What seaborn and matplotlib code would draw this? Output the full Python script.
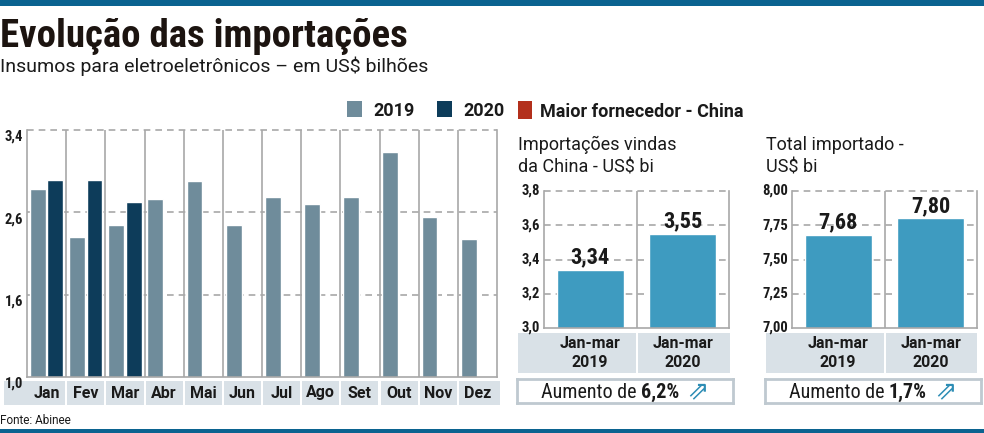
import matplotlib
matplotlib.use("Agg")
import matplotlib.pyplot as plt
from matplotlib.patches import Rectangle
from matplotlib.offsetbox import TextArea, HPacker, AnchoredOffsetbox
import pandas as pd
import seaborn as sns

W, H = 984, 433

# importações mensais de insumos (US$ bilhões)
months = ["Jan", "Fev", "Mar", "Abr", "Mai", "Jun", "Jul", "Ago", "Set", "Out", "Nov", "Dez"]
years = ["2019", "2020"]
values_2019 = [2.83, 2.36, 2.48, 2.73, 2.90, 2.48, 2.75, 2.68, 2.75, 3.19, 2.55, 2.34]
values_2020 = [2.91, 2.91, 2.70]
month_ticks = [1.0, 1.8, 2.6, 3.4]
month_tick_labels = ["1,0", "1,6", "2,6", "3,4"]

# primeiro trimestre
periods = ["Jan-mar\n2019", "Jan-mar\n2020"]
china_values = [3.34, 3.55]
china_ticks = [3.0, 3.2, 3.4, 3.6, 3.8]
total_values = [7.68, 7.80]
total_ticks = [7.00, 7.25, 7.50, 7.75, 8.00]
china_growth = "6,2%"
total_growth = "1,7%"

C2019 = "#6f8c9b"
C2020 = "#0d3c5a"
CCHINA = "#3e9bc0"
CRED = "#b3301c"
CBAND = "#d9e1e7"
CGRID = "#a8a8a8"
CTOP = "#0b6390"
CTEXT = "#1a1a1a"

sns.set_style("white")
COND = ["Roboto Condensed", "Liberation Sans Narrow", "Roboto", "DejaVu Sans"]
FONT = ["Roboto", "DejaVu Sans"]
plt.rcParams["font.family"] = FONT


def px_box(x0, y0, x1, y1):
    return [x0 / W, 1 - y1 / H, (x1 - x0) / W, (y1 - y0) / H]


def fx(x):
    return x / W


def fy(y):
    return 1 - y / H


def style_axes(ax, ticks, labels, va):
    ax.set_yticks(ticks)
    ax.set_yticklabels(labels, fontsize=10.5, fontweight="bold", color=CTEXT, family=COND)
    for lbl in ax.get_yticklabels():
        lbl.set_va(va)
    ax.tick_params(axis="y", length=0, pad=3)
    ax.tick_params(axis="x", length=0, labelbottom=False)
    ax.set_xlabel("")
    ax.set_ylabel("")
    for t in ticks[1:]:
        ax.axhline(t, color=CGRID, lw=1.2, ls=(0, (4, 3)), zorder=0, clip_on=False)
    for side in ["left", "right", "bottom"]:
        ax.spines[side].set_color(CGRID)
        ax.spines[side].set_linewidth(1.2)
    ax.spines["top"].set_visible(False)
    ax.set_zorder(3)


def draw_band(box, axes_x0, axes_x1, n, labels, fontsize):
    # faixa cinza com os rótulos das categorias, alinhada ao eixo de cima
    bx = fig.add_axes(px_box(*box))
    bx.set_zorder(1)
    unit = (axes_x1 - axes_x0) / n
    left = -0.5 - (axes_x0 - box[0]) / unit
    right = n - 0.5 + (box[2] - axes_x1) / unit
    bx.set_xlim(left, right)
    bx.set_ylim(0, 1)
    bx.axis("off")
    g = 1 / unit
    for i, lab in enumerate(labels):
        x0 = left if i == 0 else i - 0.5 + g
        x1 = right if i == n - 1 else i + 0.5 - g
        bx.add_patch(Rectangle((x0, 0), x1 - x0, 1, color=CBAND, lw=0))
        bx.text(i, 0.5, lab, ha="center", va="center", fontsize=fontsize,
                fontweight="bold", color=CTEXT, linespacing=1.3)


def growth_box(box, growth):
    gx = fig.add_axes(px_box(*box))
    gx.set_xticks([])
    gx.set_yticks([])
    for s in gx.spines.values():
        s.set_color("#bfc9d0")
        s.set_linewidth(2)
    parts = [
        TextArea("Aumento de ", textprops=dict(fontsize=14.5, color=CTEXT, family=COND)),
        TextArea(growth, textprops=dict(fontsize=14.5, color=CTEXT, fontweight="bold", family=COND)),
        TextArea(" \u21d7", textprops=dict(fontsize=19, color="#2d8db5", family=["DejaVu Sans"])),
    ]
    pack = HPacker(children=parts, align="baseline", pad=0, sep=0)
    gx.add_artist(AnchoredOffsetbox(loc="center", child=pack, frameon=False, pad=0, borderpad=0))


def period_chart(box, band, gbox, values, ticks, decimals, growth):
    ax = fig.add_axes(px_box(*box))
    d = pd.DataFrame({"periodo": periods, "valor": values})
    sns.barplot(data=d, x="periodo", y="valor", color=CCHINA, saturation=1,
                width=0.72, ax=ax)
    ax.set_xlim(-0.5, 1.5)
    ax.set_ylim(ticks[0], ticks[-1])
    style_axes(ax, ticks, [f"{t:.{decimals}f}".replace(".", ",") for t in ticks], "center")
    ax.axvline(0.5, color=CGRID, lw=1.2, zorder=0.5)
    ax.bar_label(ax.containers[0], labels=[f"{v:.2f}".replace(".", ",") for v in values],
                 padding=1, fontsize=16, fontweight="bold", color=CTEXT, family=COND)
    draw_band(band, box[0], box[2], len(periods), periods, 11.5)
    growth_box(gbox, growth)


fig = plt.figure(figsize=(W / 100, H / 100), dpi=100)

# faixas azuis do topo e da base
fig.patches.append(Rectangle((0, fy(6)), 1, 6 / H, transform=fig.transFigure, color=CTOP, lw=0))
fig.patches.append(Rectangle((0, 0), 1, 4 / H, transform=fig.transFigure, color=CTOP, lw=0))

fig.text(0, fy(47), "Evolução das importações", fontsize=28, fontweight="black",
         color="#1c1410", va="baseline", family=COND)
fig.text(0, fy(72), "Insumos para eletroeletrônicos – em US$ bilhões", fontsize=14,
         color=CTEXT, va="baseline")

# gráfico mensal
df = pd.DataFrame({
    "mes": months + months[:len(values_2020)],
    "ano": [years[0]] * len(values_2019) + [years[1]] * len(values_2020),
    "valor": values_2019 + values_2020,
})
ax = fig.add_axes(px_box(27, 130, 497, 377))
sns.barplot(data=df, x="mes", y="valor", hue="ano", order=months, hue_order=years,
            palette=[C2019, C2020], saturation=1, width=0.9, gap=0.1, legend=False, ax=ax)
ax.set_xlim(-0.5, len(months) - 0.5)
ax.set_ylim(month_ticks[0], month_ticks[-1])
style_axes(ax, month_ticks, month_tick_labels, "top")
for i in range(len(months) - 1):
    ax.axvline(i + 0.5, color=CGRID, lw=1.2, zorder=0.5)
draw_band((4, 381, 500, 405), 27, 497, len(months), months, 11.5)

# legenda
for x, c, lab in [(347, C2019, years[0]), (437, C2020, years[1])]:
    fig.patches.append(Rectangle((fx(x), fy(117)), 15 / W, 16 / H,
                                 transform=fig.transFigure, color=c, lw=0))
    fig.text(fx(x + 26), fy(116), lab, fontsize=13, fontweight="bold", color=CTEXT, va="baseline")

fig.patches.append(Rectangle((fx(518), fy(119)), 14 / W, 18 / H,
                             transform=fig.transFigure, color=CRED, lw=0))
fig.text(fx(540), fy(117), "Maior fornecedor - China", fontsize=13, fontweight="bold",
         color=CTEXT, va="baseline")

fig.text(fx(518), fy(136), "Importações vindas\nda China - US$ bi", fontsize=13,
         color=CTEXT, va="top", linespacing=1.3)
fig.text(fx(766), fy(136), "Total importado -\nUS$ bi", fontsize=13,
         color=CTEXT, va="top", linespacing=1.3)

period_chart((544, 191, 729, 328), (518, 333, 730, 373), (517, 379, 733, 403),
             china_values, china_ticks, 1, china_growth)
period_chart((792, 191, 977, 328), (766, 333, 977, 373), (765, 379, 981, 403),
             total_values, total_ticks, 2, total_growth)

fig.text(0, fy(424), "Fonte: Abinee", fontsize=8.5, color=CTEXT, va="baseline")

fig.savefig("out.png", dpi=100)
